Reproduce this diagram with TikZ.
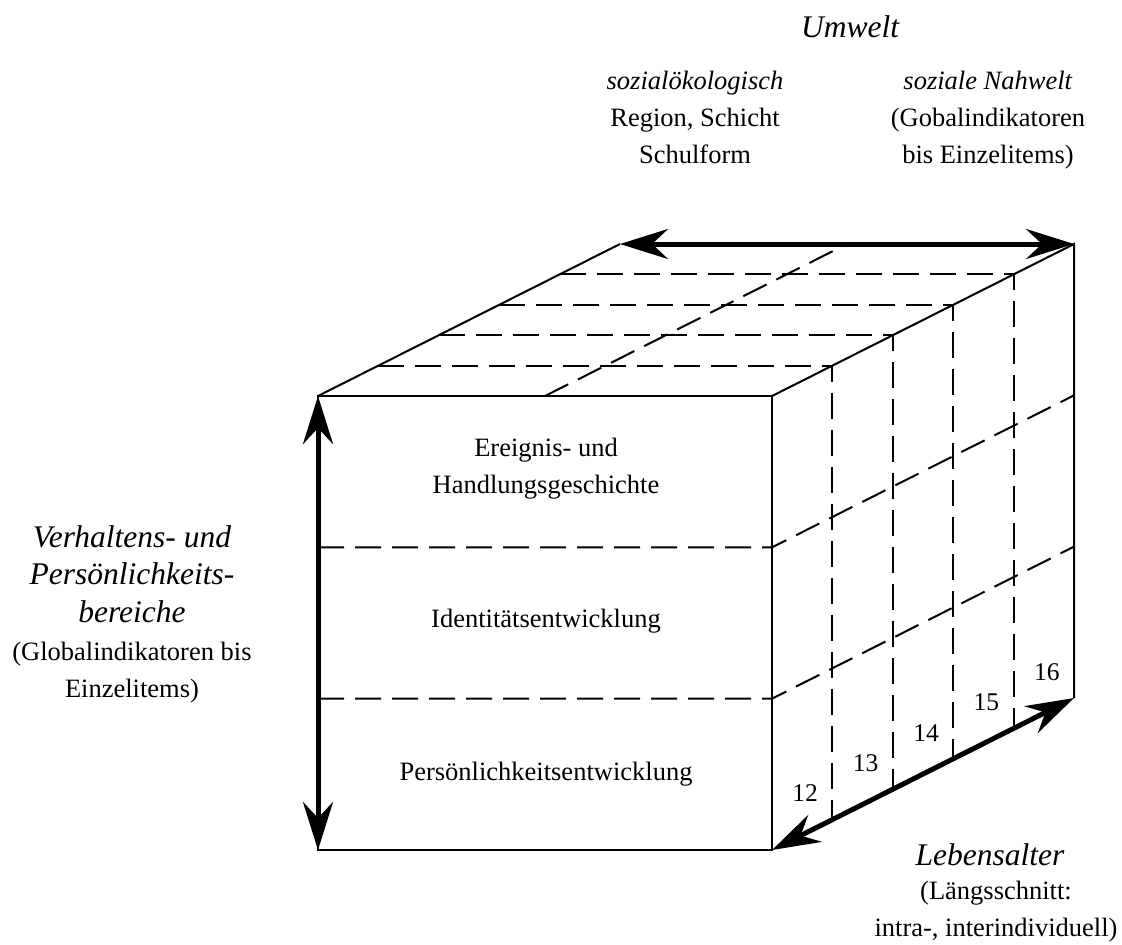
\documentclass[tikz,border=0pt]{standalone}
\usepackage{fontspec}
\setmainfont{Liberation Serif}
\usetikzlibrary{arrows.meta,calc,positioning}
\tikzset{
        cubeline/.style = {draw, line width=1pt},
        divline/.style = {draw, line width=1pt, dash pattern=on 13pt off 5.5pt},
        dimarrow/.style = {draw, line width=2.5pt,
            {Stealth[length=24pt,width=15pt,inset=8pt]}-{Stealth[length=24pt,width=15pt,inset=8pt]}},
        lbl/.style = {align=center, inner sep=0pt, anchor=base,
            font=\fontsize{13.25}{18.5}\selectfont},
        ttl/.style = {align=center, inner sep=0pt, anchor=base,
            font=\fontsize{15.75}{18.75}\selectfont\itshape},
        agelbl/.style = {inner sep=0pt, anchor=base,
            font=\fontsize{12.75}{14}\selectfont},
    }

\begin{document}
\begin{tikzpicture}[x=0.5pt,y=-0.5pt]
        \useasboundingbox (0,0) rectangle (1122,944);

        % cube corners
        \coordinate (ftl) at (318,396);
        \coordinate (ftr) at (772,396);
        \coordinate (fbr) at (772,850);
        \coordinate (fbl) at (318,850);
        \coordinate (btl) at (620,244);
        \coordinate (btr) at (1074,244);
        \coordinate (bbr) at (1074,698);

        % divisions
        \foreach \k in {1,2} {
            \draw[divline] ($(ftl)!\k/3!(fbl)$) -- ($(ftr)!\k/3!(fbr)$) -- ($(btr)!\k/3!(bbr)$);
        }
        \foreach \k in {1,...,4} {
            \draw[divline] ($(ftl)!\k/5!(btl)$) -- ($(ftr)!\k/5!(btr)$) -- ($(fbr)!\k/5!(bbr)$);
        }
        \draw[divline] ($(ftl)!.5!(ftr)$) -- ($(btl)!.5!(btr)$);

        % edges
        \draw[cubeline] (ftl) -- (ftr) -- (fbr) -- (fbl) -- cycle;
        \draw[cubeline] (ftl) -- (btl);
        \draw[cubeline] (ftr) -- (btr) -- (bbr);

        % dimensions
        \draw[dimarrow] (ftl) -- (fbl);
        \draw[dimarrow] (btl) -- (btr);
        \draw[dimarrow] (fbr) -- (bbr);

        % labels (base = last line)
        \node[ttl] (umwelt) at (850,37) {Umwelt};
        \node[lbl] (oeko) at (695,163) {\textit{sozialökologisch}\\Region, Schicht\\Schulform};
        \node[lbl] (nahwelt) at (988,163) {\textit{soziale Nahwelt}\\(Gobalindikatoren\\bis Einzelitems)};

        \node[lbl] (ereignis) at (546,493) {Ereignis- und\\Handlungsgeschichte};
        \node[lbl] (identitaet) at (546,627) {Identitätsentwicklung};
        \node[lbl] (persoenlichkeit) at (546,780) {Persönlichkeitsentwicklung};

        \node[ttl] (bereiche) at (132,622) {Verhaltens- und\\Persönlichkeits-\\bereiche};
        \node[lbl] (globalind) at (132,697) {(Globalindikatoren bis\\Einzelitems)};

        \node[ttl] (lebensalter) at (990,865) {Lebensalter};
        \node[lbl] (laengs) at (996,936) {(Längsschnitt:\\intra-, interindividuell)};

        \foreach \n [count=\i from 0] in {12,...,16} {
            \node[agelbl] (age\n) at ($(fbr)!{(\i+.5)/5}!(bbr) + (3,-33)$) {\n};
        }
\end{tikzpicture}
\end{document}
